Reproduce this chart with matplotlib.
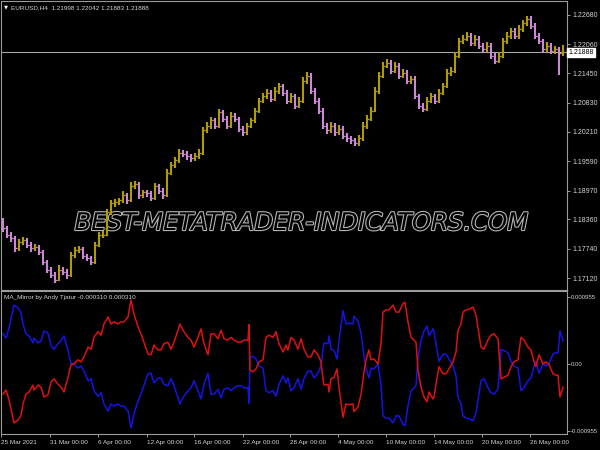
import matplotlib
matplotlib.use("Agg")
import matplotlib.pyplot as plt
import matplotlib.patheffects as pe
from matplotlib.collections import LineCollection
import numpy as np

# EURUSD H4 bars (one drawn bar per two H4 bars)
closes = [1.1817, 1.1803, 1.1796, 1.1775, 1.1788, 1.1792, 1.1782, 1.1775, 1.1777, 1.1767,
          1.1746, 1.1729, 1.1718, 1.1708, 1.1729, 1.1725, 1.1718, 1.1760, 1.1771, 1.1773,
          1.1758, 1.1754, 1.1746, 1.1782, 1.1803, 1.1803, 1.1851, 1.1870, 1.1872, 1.1876,
          1.1887, 1.1876, 1.1906, 1.1910, 1.1887, 1.1893, 1.1891, 1.1881, 1.1906, 1.1897,
          1.1887, 1.1935, 1.1950, 1.1961, 1.1977, 1.1975, 1.1969, 1.1965, 1.1969, 1.1977,
          1.2024, 1.2034, 1.2045, 1.2034, 1.2062, 1.2049, 1.2034, 1.2055, 1.2049, 1.2028,
          1.2020, 1.2034, 1.2045, 1.2066, 1.2087, 1.2097, 1.2104, 1.2091, 1.2108, 1.2118,
          1.2104, 1.2087, 1.2097, 1.2076, 1.2087, 1.2129, 1.2140, 1.2108, 1.2087, 1.2066,
          1.2034, 1.2024, 1.2034, 1.2020, 1.2028, 1.2013, 1.2007, 1.2003, 1.1998, 1.2007,
          1.2034, 1.2049, 1.2066, 1.2108, 1.2140, 1.2161, 1.2167, 1.2150, 1.2161, 1.2140,
          1.2146, 1.2129, 1.2133, 1.2097, 1.2076, 1.2070, 1.2087, 1.2097, 1.2087, 1.2104,
          1.2118, 1.2146, 1.2150, 1.2182, 1.2213, 1.2218, 1.2224, 1.2209, 1.2218, 1.2203,
          1.2196, 1.2203, 1.2182, 1.2171, 1.2182, 1.2213, 1.2224, 1.2234, 1.2224, 1.2239,
          1.2251, 1.2260, 1.2245, 1.2224, 1.2213, 1.2196, 1.2203, 1.2192, 1.2196, 1.2188,
          1.21888]
highs = [1.1838, 1.1822, 1.1810, 1.1800, 1.1795, 1.1799, 1.1797, 1.1788, 1.1785, 1.1781,
         1.1771, 1.1750, 1.1735, 1.1724, 1.1740, 1.1736, 1.1731, 1.1768, 1.1778, 1.1780,
         1.1777, 1.1763, 1.1759, 1.1788, 1.1810, 1.1812, 1.1858, 1.1876, 1.1879, 1.1882,
         1.1895, 1.1891, 1.1914, 1.1918, 1.1914, 1.1899, 1.1898, 1.1896, 1.1912, 1.1911,
         1.1902, 1.1942, 1.1957, 1.1968, 1.1984, 1.1983, 1.1980, 1.1974, 1.1976, 1.1984,
         1.2031, 1.2041, 1.2052, 1.2050, 1.2070, 1.2067, 1.2054, 1.2062, 1.2061, 1.2053,
         1.2034, 1.2040, 1.2051, 1.2072, 1.2093, 1.2104, 1.2111, 1.2110, 1.2115, 1.2125,
         1.2123, 1.2109, 1.2104, 1.2102, 1.2094, 1.2136, 1.2148, 1.2145, 1.2113, 1.2092,
         1.2071, 1.2040, 1.2041, 1.2039, 1.2035, 1.2033, 1.2019, 1.2013, 1.2009, 1.2014,
         1.2041, 1.2056, 1.2073, 1.2115, 1.2147, 1.2168, 1.2175, 1.2172, 1.2168, 1.2166,
         1.2153, 1.2151, 1.2140, 1.2138, 1.2102, 1.2082, 1.2094, 1.2104, 1.2102, 1.2111,
         1.2125, 1.2153, 1.2158, 1.2189, 1.2220, 1.2226, 1.2231, 1.2229, 1.2225, 1.2223,
         1.2208, 1.2210, 1.2208, 1.2187, 1.2189, 1.2220, 1.2231, 1.2241, 1.2240, 1.2246,
         1.2258, 1.2266, 1.2265, 1.2250, 1.2229, 1.2218, 1.2210, 1.2208, 1.2203, 1.2201,
         1.2204]
lows = [1.1810, 1.1797, 1.1788, 1.1768, 1.1770, 1.1781, 1.1776, 1.1768, 1.1769, 1.1760,
        1.1740, 1.1722, 1.1712, 1.1702, 1.1705, 1.1718, 1.1711, 1.1714, 1.1754, 1.1765,
        1.1752, 1.1748, 1.1740, 1.1742, 1.1777, 1.1796, 1.1800, 1.1846, 1.1863, 1.1866,
        1.1870, 1.1869, 1.1872, 1.1900, 1.1880, 1.1881, 1.1884, 1.1874, 1.1877, 1.1890,
        1.1880, 1.1884, 1.1929, 1.1944, 1.1955, 1.1968, 1.1962, 1.1958, 1.1959, 1.1963,
        1.1973, 1.2018, 1.2028, 1.2027, 1.2030, 1.2042, 1.2027, 1.2029, 1.2042, 1.2020,
        1.2012, 1.2015, 1.2029, 1.2040, 1.2060, 1.2081, 1.2091, 1.2084, 1.2086, 1.2102,
        1.2097, 1.2080, 1.2081, 1.2069, 1.2071, 1.2083, 1.2123, 1.2101, 1.2080, 1.2059,
        1.2027, 1.2017, 1.2018, 1.2013, 1.2014, 1.2006, 1.2000, 1.1996, 1.1991, 1.1992,
        1.2002, 1.2028, 1.2043, 1.2062, 1.2102, 1.2134, 1.2155, 1.2143, 1.2145, 1.2133,
        1.2134, 1.2122, 1.2123, 1.2090, 1.2069, 1.2063, 1.2065, 1.2081, 1.2080, 1.2082,
        1.2098, 1.2113, 1.2140, 1.2145, 1.2177, 1.2207, 1.2212, 1.2202, 1.2203, 1.2196,
        1.2189, 1.2190, 1.2175, 1.2164, 1.2166, 1.2177, 1.2207, 1.2218, 1.2217, 1.2218,
        1.2233, 1.2245, 1.2238, 1.2217, 1.2206, 1.2189, 1.2190, 1.2185, 1.2186, 1.2141,
        1.2182]
first_open = 1.1830

# MA_Mirror blue buffer (red is its mirror), x in H4 bars, values in 1e-4
mirror_x = [1, 2.5, 4, 6, 6.5, 8.5, 10, 11, 12.5, 14,
            16, 16.5, 18.5, 20, 21.5, 23.5, 25, 26.5, 28.5, 30,
            31.5, 33.5, 35, 36.5, 38.5, 40, 41.5, 43.5, 45, 46.5,
            48.5, 50, 51.5, 53.5, 55, 56.5, 58.5, 60, 61.5, 63.5,
            65, 66.5, 68.5, 70, 73.5, 75, 76.5, 78.5, 80, 81.5,
            83.5, 85, 86.5, 88.5, 89.5, 91, 93.5, 95, 96.5, 98.5,
            100, 101.5, 103.5, 105, 106.5, 108.5, 110, 111.5, 113.5, 115,
            116.5, 118.5, 120, 121.5, 123.5, 124, 124.5, 126, 127.5, 129,
            131, 132.5, 134, 136, 137.5, 139, 141, 142.5, 143.5, 145,
            146.5, 148.5, 150, 151.5, 153.5, 155, 156.5, 158.5, 160, 161,
            161.5, 163.5, 164, 165, 166.5, 168, 169, 171, 172.5, 174,
            176, 176.5, 178.5, 180, 181.5, 182.5, 184, 185, 186.5, 188.5,
            190, 191, 192.5, 194, 196, 197.5, 199, 201, 202, 203.5,
            205, 206.5, 207.5, 208.5, 210, 211.5, 213, 214, 216, 216.5,
            217.5, 219, 221, 222.5, 224, 226, 227.5, 228.5, 230, 231,
            232.5, 234, 236, 237.5, 239, 240, 241.5, 243.5, 245, 246.5,
            248.5, 250, 251.5, 253.5, 255, 256.5, 258.5, 260, 261.5, 263.5,
            265, 266.5, 267.5, 269, 271, 272.5, 274, 276, 277.5, 278.5,
            279.5, 281]
mirror_e4 = [4.3, 3.7, 5.1, 7.8, 8.4, 8.0, 7.3, 5.7, 4.3, 4.0,
             3.0, 3.7, 3.0, 3.3, 4.7, 4.4, 2.6, 2.1, 2.9, 3.3,
             4.0, 1.9, 0.1, 0.0, -0.6, -0.3, -1.0, -2.4, -2.1, -3.8,
             -4.6, -4.1, -5.7, -6.7, -5.7, -6.0, -5.7, -6.0, -6.0, -6.7,
             -9.1, -7.1, -5.3, -4.3, -1.4, -1.3, -2.7, -2.0, -2.0, -2.9,
             -3.1, -2.1, -3.1, -4.8, -5.7, -4.8, -3.8, -3.4, -2.4, -3.8,
             -5.0, -2.9, -1.3, -4.3, -4.3, -3.6, -4.8, -3.6, -3.4, -3.8,
             -3.4, -3.1, -3.1, -3.4, -3.4, -5.6, 0.9, 1.1, 0.7, -0.3,
             -0.6, -3.8, -4.1, -3.8, -4.6, -2.9, -1.7, -2.7, -2.0, -3.8,
             -3.4, -2.1, -3.6, -2.1, -1.0, -1.0, -2.0, -1.3, -0.3, 2.1,
             3.0, 2.9, 4.0, 2.1, 1.9, 0.7, 3.3, 7.6, 5.7, 5.8,
             5.7, 6.8, 6.1, 4.4, 1.1, -0.6, -2.0, -0.6, -0.7, 0.0,
             -2.9, -7.4, -7.7, -7.7, -8.4, -7.4, -7.4, -8.6, -8.8, -6.0,
             -3.8, -3.4, -3.1, 0.9, 3.3, 4.7, 5.4, 4.0, 5.0, 4.7,
             2.9, 0.4, 1.4, 1.4, 0.7, -0.3, -1.7, -4.8, -5.7, -7.4,
             -7.7, -7.8, -8.1, -7.0, -4.3, -2.4, -2.1, -3.4, -4.1, -4.3,
             -3.6, 2.1, 1.9, 1.6, 0.4, -0.3, -0.6, -3.8, -3.4, -2.4,
             -2.0, -0.3, 0.4, -1.3, 0.0, -0.3, 0.1, 1.4, 1.6, 1.6,
             4.7, 3.3]

price_ticks = [1.22680, 1.22060, 1.21450, 1.20830, 1.20210, 1.19590, 1.18970, 1.18360,
               1.17740, 1.17120]
mirror_ticks = [0.000955, 0.0, -0.000955]
mirror_labels = ["0.000955", "0.00", "-0.000955"]
time_pos = [0, 24.5, 48.5, 73, 96.5, 121, 144.5, 168.5, 192.5, 216.5, 240.5, 264.5]
time_labels = ["25 Mar 2021", "31 Mar 00:00", "6 Apr 00:00", "12 Apr 00:00", "16 Apr 00:00",
               "22 Apr 00:00", "28 Apr 00:00", "4 May 00:00", "10 May 00:00", "14 May 00:00",
               "20 May 00:00", "26 May 00:00"]
bid = 1.21888

up_col = "#b09c00"
dn_col = "#cc88d4"
grid_col = "#9a9a9a"
txt_col = "#d4d4d4"
plt.rcParams["font.family"] = ["Liberation Sans", "DejaVu Sans"]
fs_y = 5.0
fs_s = 4.6

W, H = 600, 450
fig = plt.figure(figsize=(6, 4.5), dpi=100, facecolor="black")
ax = fig.add_axes([1 / W, 1 - 290 / H, 566 / W, 289 / H], facecolor="black")
ax2 = fig.add_axes([1 / W, 1 - 434 / H, 566 / W, 143 / H], facecolor="black")

# price bars
opens = [first_open] + closes[:-1]
xs = np.arange(len(closes)) * 2 + 1
vsegs, tsegs, vcols, tcols = [], [], [], []
for x, o, h, l, c in zip(xs, opens, highs, lows, closes):
    col = up_col if c >= o else dn_col
    vsegs.append([(x, l), (x, h)])
    vcols.append(col)
    tsegs += [[(x - 0.9, o), (x, o)], [(x, c), (x + 0.9, c)]]
    tcols += [col, col]
ax.add_collection(LineCollection(tsegs, colors=tcols, linewidths=0.9, zorder=3))
ax.add_collection(LineCollection(vsegs, colors=vcols, linewidths=1.5, zorder=3))
ax.axhline(bid, color="#a8a8a8", lw=0.8, zorder=2)

ax.set_xlim(0, 283)
ax.set_ylim(1.16868, 1.22975)
ax.set_xticks([])
ax.yaxis.tick_right()
ax.set_yticks(price_ticks)
ax.set_yticklabels([f"{t:.5f}" for t in price_ticks])

ax.text(0.005, 0.978, "\u25bc", transform=ax.transAxes, color="white", fontsize=3.8,
        va="center", ha="left", family="DejaVu Sans")
ax.text(0.017, 0.978, "EURUSD,H4  1.21998 1.22042 1.21883 1.21888", transform=ax.transAxes,
        color=txt_col, fontsize=fs_s, va="center", ha="left")
ax.text(1.003, (bid - 1.16868) / (1.22975 - 1.16868), f"{bid:.5f}", transform=ax.transAxes,
        color="black", fontsize=fs_y, va="center", ha="left",
        bbox=dict(boxstyle="square,pad=0.2", fc="white", ec="white"))

wm = ax.text(0.53, 1 - 222 / 289, "BEST-METATRADER-INDICATORS.COM", transform=ax.transAxes,
             ha="center", va="center", fontsize=17.5, style="italic", color="black",
             family="DejaVu Sans", zorder=1)
wm.set_path_effects([pe.Stroke(linewidth=1.6, foreground="#b4b4b4"), pe.Normal()])

# MA_Mirror panel
mv = np.array(mirror_e4) * 1e-4
ax2.plot(mirror_x, mv, color="#1414e6", lw=1.1)
ax2.plot(mirror_x, -mv, color="#e01010", lw=1.1)
ax2.set_xlim(0, 283)
ax2.set_ylim(-0.000998, 0.00104)
ax2.yaxis.tick_right()
ax2.set_yticks(mirror_ticks)
ax2.set_yticklabels(mirror_labels)
ax2.set_xticks(time_pos)
ax2.set_xticklabels(time_labels, ha="left")
ax2.text(0.005, 0.955, "MA_Mirror by Andy Tjatur -0.000310 0.000310", transform=ax2.transAxes,
         color=txt_col, fontsize=fs_s, va="center", ha="left")

for a in (ax, ax2):
    for s in a.spines.values():
        s.set_color(grid_col)
        s.set_linewidth(0.8)
    a.tick_params(colors=grid_col, labelcolor=txt_col, labelsize=fs_y, length=2.5,
                  width=0.7, pad=1.5)
ax2.tick_params(axis="x", pad=2, labelsize=fs_s)
ax2.tick_params(axis="y", labelsize=4.3, pad=0.8, length=2)

fig.savefig("out.png", dpi=100, facecolor="black")
